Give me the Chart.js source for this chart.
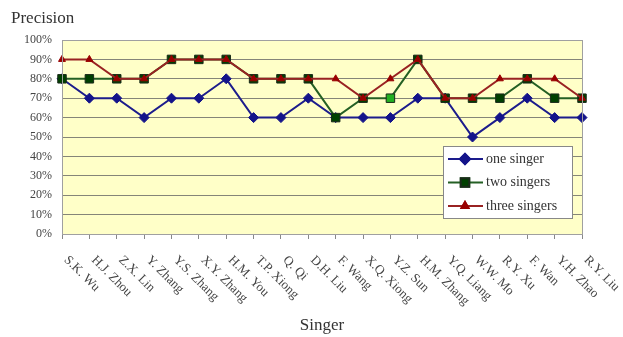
<!DOCTYPE html>
<html>
<head>
<meta charset="utf-8">
<script src="https://cdn.jsdelivr.net/npm/chart.js@4.4.1/dist/chart.umd.min.js"></script>
<style>
  html, body { margin: 0; padding: 0; background: #fff; }
</style>
</head>
<body>
<canvas id="chart" width="623" height="337"></canvas>
<script>
const singers = ['S.K. Wu', 'H.J. Zhou', 'Z.X. Lin', 'Y. Zhang', 'Y.S. Zhang', 'X.Y. Zhang', 'H.M. You',
  'T.P. Xiong', 'Q. Qi', 'D.H. Liu', 'F. Wang', 'X.Q. Xiong', 'Y.Z. Sun', 'H.M. Zhang', 'Y.Q. Liang',
  'W.W. Mo', 'R.Y. Xu', 'F. Wan', 'Y.H. Zhao', 'R.Y. Liu'];
const oneSinger    = [80, 70, 70, 60, 70, 70, 80, 60, 60, 70, 60, 60, 60, 70, 70, 50, 60, 70, 60, 60];
const twoSingers   = [80, 80, 80, 80, 90, 90, 90, 80, 80, 80, 60, 70, 70, 90, 70, 70, 70, 80, 70, 70];
const threeSingers = [90, 90, 80, 80, 90, 90, 90, 80, 80, 80, 80, 70, 80, 90, 70, 70, 80, 80, 80, 70];
const seriesNames = ['one singer', 'two singers', 'three singers'];
const yTickMax = 100;
const yTickStep = 10;

const serif = '"Liberation Serif", "Times New Roman", serif';

// one square (Y.Z. Sun) is lighter green in the original
const twoFill = twoSingers.map((v, i) => singers[i] === 'Y.Z. Sun' ? '#22b022' : '#004000');

const plotBg = {
  id: 'plotBg',
  beforeDraw(chart) {
    const { ctx, chartArea: a } = chart;
    ctx.save();
    ctx.fillStyle = '#ffffc8';
    ctx.fillRect(a.left, a.top, a.right - a.left, a.bottom - a.top);
    ctx.restore();
  },
  afterDraw(chart) {
    const { ctx, chartArea: a } = chart;
    ctx.save();
    ctx.strokeStyle = '#a0a0a0';
    ctx.lineWidth = 1;
    ctx.strokeRect(a.left + 0.5, a.top + 0.5, a.right - a.left, a.bottom - a.top);
    ctx.restore();
  }
};

const textBits = {
  id: 'textBits',
  afterDraw(chart) {
    const { ctx, chartArea: a } = chart;
    const xs = chart.scales.x;
    ctx.save();
    ctx.fillStyle = '#333';
    ctx.font = '17px ' + serif;
    ctx.textBaseline = 'middle';
    ctx.textAlign = 'left';
    ctx.fillText('Precision', 11, 19);
    ctx.textAlign = 'center';
    ctx.fillText('Singer', (a.left + a.right) / 2, 326);

    ctx.fillStyle = '#444';
    ctx.font = '13px ' + serif;
    ctx.textAlign = 'left';
    singers.forEach((name, i) => {
      const px = xs.getPixelForValue(i);
      ctx.save();
      ctx.translate(px + 4, a.bottom + 24);
      ctx.rotate(Math.PI / 4);
      ctx.fillText(name, 0, 0);
      ctx.restore();
    });
    ctx.restore();
  }
};

const boxLegend = {
  id: 'boxLegend',
  afterDatasetsDraw(chart) {
    const ctx = chart.ctx;
    const bx = 443, by = 146, bw = 129, bh = 72;
    ctx.save();
    ctx.fillStyle = '#fff';
    ctx.fillRect(bx, by, bw, bh);
    ctx.strokeStyle = '#888';
    ctx.lineWidth = 1;
    ctx.strokeRect(bx + 0.5, by + 0.5, bw, bh);
    chart.data.datasets.forEach((ds, i) => {
      const y = by + 13 + i * 23.5;
      ctx.strokeStyle = ds.borderColor;
      ctx.lineWidth = 2;
      ctx.beginPath();
      ctx.moveTo(bx + 5, y);
      ctx.lineTo(bx + 40, y);
      ctx.stroke();
      Chart.helpers.drawPoint(ctx, {
        pointStyle: ds.pointStyle,
        radius: ds.pointRadius,
        borderWidth: 1
      }, bx + 22, y);
      ctx.fillStyle = Array.isArray(ds.pointBackgroundColor) ? ds.pointBackgroundColor[0] : ds.pointBackgroundColor;
      ctx.strokeStyle = ds.pointBorderColor;
      ctx.fill();
      ctx.stroke();
      ctx.fillStyle = '#333';
      ctx.font = '14px ' + serif;
      ctx.textAlign = 'left';
      ctx.textBaseline = 'middle';
      ctx.fillText(ds.label, bx + 43, y);
    });
    ctx.restore();
  }
};

new Chart(document.getElementById('chart'), {
  type: 'line',
  data: {
    labels: singers,
    datasets: [
      {
        label: seriesNames[0],
        data: oneSinger,
        borderColor: '#1c1c8c',
        borderWidth: 2,
        pointStyle: 'rectRot',
        pointRadius: 5,
        pointBackgroundColor: '#14148a',
        pointBorderColor: '#14148a',
        pointBorderWidth: 1,
        clip: false,
        order: 2
      },
      {
        label: seriesNames[1],
        data: twoSingers,
        borderColor: '#246024',
        borderWidth: 2,
        pointStyle: 'rect',
        pointRadius: 6,
        pointBackgroundColor: twoFill,
        pointBorderColor: '#1a2a1a',
        pointBorderWidth: 1,
        clip: false,
        order: 1
      },
      {
        label: seriesNames[2],
        data: threeSingers,
        borderColor: '#992222',
        borderWidth: 2,
        pointStyle: 'triangle',
        pointRadius: 4,
        pointBackgroundColor: '#990000',
        pointBorderColor: '#990000',
        pointBorderWidth: 1,
        clip: false,
        order: 0
      }
    ]
  },
  options: {
    responsive: false,
    animation: false,
    layout: { padding: { left: 0, top: 40, right: 41, bottom: 0 } },
    plugins: {
      legend: { display: false },
      tooltip: { enabled: false }
    },
    scales: {
      x: {
        offset: false,
        afterFit: s => { s.height = 103; },
        grid: { drawOnChartArea: false, drawTicks: true, tickLength: 5, color: '#888' },
        border: { display: false },
        ticks: { display: false }
      },
      y: {
        min: 0,
        max: yTickMax,
        afterFit: s => { s.width = 62; },
        grid: { color: '#858578', drawTicks: false },
        border: { display: false },
        ticks: {
          stepSize: yTickStep,
          padding: 10,
          color: '#444',
          font: { family: serif, size: 12 },
          callback: v => v + '%'
        }
      }
    }
  },
  plugins: [plotBg, textBits, boxLegend]
});
</script>
</body>
</html>
